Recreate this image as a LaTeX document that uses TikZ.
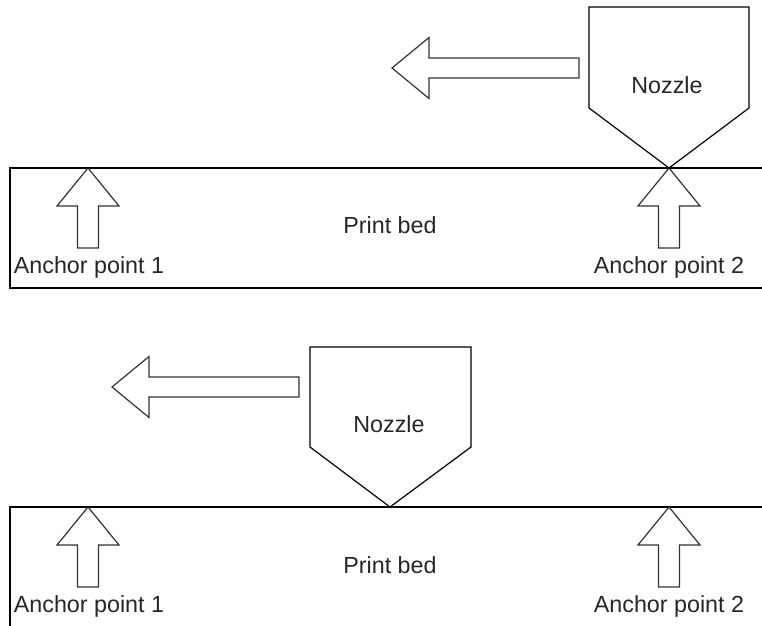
\documentclass[tikz,border=0pt]{standalone}
\usepackage{fontspec}
\setmainfont{Liberation Sans}
\begin{document}
\begin{tikzpicture}[x=1pt,y=-1pt,
  outline/.style={draw=black,line width=1.2pt,line join=miter},
  hollowarrow/.style={draw=black!80,line width=1.2pt,fill=white},
  lbl/.style={font=\fontsize{23.3}{28}\selectfont,text=black!85,anchor=base,inner sep=0pt},
  uparrow/.pic={
    \draw[hollowarrow] (0,0) -- (31,38) -- (10.5,38) -- (10.5,80) -- (-10.5,80)
      -- (-10.5,38) -- (-31,38) -- cycle;
  },
  leftarrow/.pic={
    \draw[hollowarrow] (0,0) -- (37,-30.5) -- (37,-10) -- (187,-10) -- (187,10)
      -- (37,10) -- (37,30.5) -- cycle;
  }]
\useasboundingbox (0,0) rectangle (762,625);

% ---------- upper stage: nozzle above anchor point 2 ----------
\draw[outline] (10,168) rectangle (766,288);
\node[lbl] (bedA) at (390,233) {Print bed};
\pic at (88,168) {uparrow};
\pic at (669,168) {uparrow};
\node[lbl] (anchorA1) at (89,273) {Anchor point 1};
\node[lbl] (anchorA2) at (669,273) {Anchor point 2};
\draw[outline] (589,7) -- (749,7) -- (749,108) -- (669,168) -- (589,108) -- cycle;
\node[lbl] (nozzleA) at (667,93) {Nozzle};
\pic at (392,68) {leftarrow};

% ---------- lower stage: nozzle midway along the bed ----------
\draw[outline] (10,507) rectangle (766,630);
\node[lbl] (bedB) at (390,573) {Print bed};
\pic at (88,507) {uparrow};
\pic at (669,507) {uparrow};
\node[lbl] (anchorB1) at (89,612) {Anchor point 1};
\node[lbl] (anchorB2) at (669,612) {Anchor point 2};
\draw[outline] (310,347) -- (471,347) -- (471,447) -- (390,507) -- (310,447) -- cycle;
\node[lbl] (nozzleB) at (389,432) {Nozzle};
\pic at (112,387) {leftarrow};
\end{tikzpicture}
\end{document}
